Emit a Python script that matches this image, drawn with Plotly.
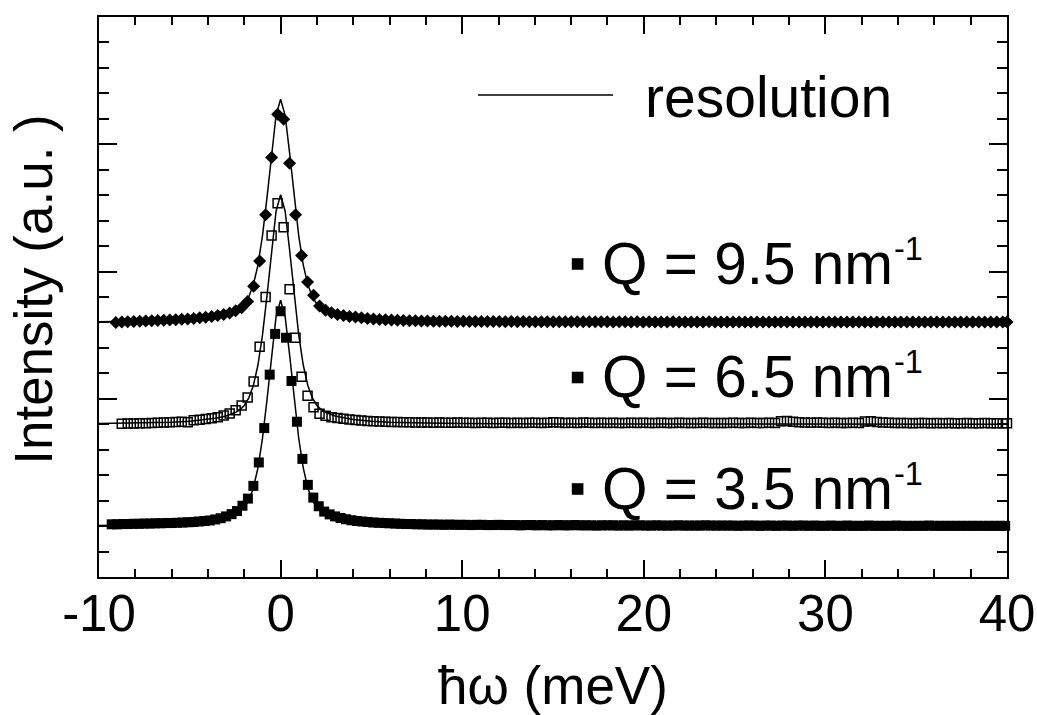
import plotly.graph_objects as go

# ---------------- data ----------------
# energy transfer (meV) and intensities (a.u., relative to each curve's baseline)
x_q35 = [-9.3,-9.0,-8.7,-8.4,-8.1,-7.8,-7.5,-7.2,-6.9,-6.6,-6.3,-6.0,-5.7,-5.4,-5.1,-4.8,-4.5,-4.2,-3.9,-3.6,
         -3.3,-3.0,-2.7,-2.4,-2.1,-1.8,-1.5,-1.2,-0.9,-0.6,-0.3,0.0,0.3,0.6,0.9,1.2,1.5,1.8,2.1,2.4,
         2.7,3.0,3.3,3.6,3.9,4.2,4.5,4.8,5.1,5.4,5.7,6.0,6.3,6.6,6.9,7.2,7.5,7.8,8.1,8.4,
         8.7,9.0,9.3,9.6,9.9,10.2,10.5,10.8,11.1,11.4,11.7,12.0,12.3,12.6,12.9,13.2,13.5,13.8,14.1,14.4,
         14.7,15.0,15.3,15.6,15.9,16.2,16.5,16.8,17.1,17.4,17.7,18.0,18.3,18.6,18.9,19.2,19.5,19.8,20.1,20.4,
         20.7,21.0,21.3,21.6,21.9,22.2,22.5,22.8,23.1,23.4,23.7,24.0,24.3,24.6,24.9,25.2,25.5,25.8,26.1,26.4,
         26.7,27.0,27.3,27.6,27.9,28.2,28.5,28.8,29.1,29.4,29.7,30.0,30.3,30.6,30.9,31.2,31.5,31.8,32.1,32.4,
         32.7,33.0,33.3,33.6,33.9,34.2,34.5,34.8,35.1,35.4,35.7,36.0,36.3,36.6,36.9,37.2,37.5,37.8,38.1,38.4,
         38.7,39.0,39.3,39.6,39.9]
y_q35 = [0.07,0.07,0.08,0.08,0.09,0.09,0.10,0.10,0.11,0.11,0.12,0.12,0.13,0.14,0.15,0.16,0.18,0.20,0.22,0.26,
         0.31,0.38,0.47,0.59,0.80,1.08,1.58,2.50,3.85,5.95,7.55,8.44,7.40,5.70,4.10,2.64,1.62,1.12,0.78,0.57,
         0.46,0.38,0.32,0.27,0.23,0.20,0.18,0.16,0.14,0.13,0.12,0.11,0.10,0.09,0.08,0.08,0.07,0.07,
         0.06,0.06,0.06,0.05,0.06,0.05,0.05,0.05,0.04,0.05,0.05,0.04,0.04,0.05,
         0.04,0.04,0.04,0.03,0.04,0.04,0.03,0.04,0.03,0.03,0.04,0.03,0.03,0.04,
         0.03,0.03,0.03,0.02,0.03,0.03,0.03,0.02,0.03,0.02,0.03,0.03,0.02,0.02,
         0.03,0.02,0.02,0.02,0.03,0.02,0.02,0.02,0.02,0.03,0.02,0.02,0.02,0.02,
         0.02,0.01,0.02,0.02,0.02,0.01,0.02,0.02,0.01,0.02,0.02,0.01,0.02,0.02,
         0.01,0.02,0.01,0.01,0.02,0.01,0.01,0.02,0.01,0.01,0.01,0.02,0.01,0.01,
         0.01,0.01,0.02,0.01,0.01,0.01,0.01,0.01,0.02,0.01,0.01,0.01,0.01,0.01,
         0.01,0.01,0.01,0.01,0.01,0.01,0.01,0.01,0.01]

x_q65 = [-8.745,-8.415,-8.085,-7.755,-7.425,-7.095,-6.765,-6.435,-6.105,-5.775,-5.445,-5.115,-4.785,-4.455,
         -4.125,-3.795,-3.465,-3.135,-2.805,-2.475,-2.145,-1.815,-1.485,-1.155,-0.825,-0.495,-0.165,
         0.165,0.495,0.825,1.155,1.485,1.815,2.145,2.475,2.805,3.135,3.465,3.795,4.125,4.455,4.785,5.115,
         5.445,5.775,6.105,6.435,6.765,7.095,7.425,7.755,8.085,8.415,8.745,9.075,9.405,9.735,10.065,10.395,
         10.725,11.055,11.385,11.715,12.045,12.375,12.705,13.035,13.365,13.695,14.025,14.355,14.685,15.015,
         15.345,15.675,16.005,16.335,16.665,16.995,17.325,17.655,17.985,18.315,18.645,18.975,19.305,19.635,
         19.965,20.295,20.625,20.955,21.285,21.615,21.945,22.275,22.605,22.935,23.265,23.595,23.925,24.255,
         24.585,24.915,25.245,25.575,25.905,26.235,26.565,26.895,27.225,27.555,27.885,28.215,28.545,28.875,
         29.205,29.535,29.865,30.195,30.525,30.855,31.185,31.515,31.845,32.175,32.505,32.835,33.165,33.495,
         33.825,34.155,34.485,34.815,35.145,35.475,35.805,36.135,36.465,36.795,37.125,37.455,37.785,38.115,
         38.445,38.775,39.105,39.435,39.765,40.0]
y_q65 = [0.02,0.03,0.03,0.04,0.04,0.05,0.06,0.07,0.08,0.09,0.10,0.08,0.16,0.18,0.21,0.24,0.28,0.34,0.42,
         0.55,0.74,1.05,1.68,3.05,5.00,7.42,8.68,
         7.74,5.30,3.40,1.87,1.12,0.67,0.41,0.33,0.28,0.25,0.22,0.19,0.17,0.15,0.13,0.12,0.11,0.10,0.09,
         0.09,0.08,0.08,0.07,0.07,
         0.07,0.06,0.07,0.06,0.06,0.07,0.06,0.06,0.05,0.06,
         0.06,0.05,0.06,0.06,0.05,0.06,0.05,0.06,0.06,0.05,
         0.06,0.08,0.07,0.05,0.06,0.05,0.07,0.06,0.05,0.06,
         0.05,0.06,0.05,0.05,0.06,0.05,0.06,0.05,0.05,0.06,
         0.05,0.05,0.06,0.05,0.05,0.05,0.06,0.05,0.05,0.05,
         0.05,0.06,0.05,0.05,0.06,0.05,0.05,0.06,0.05,0.12,
         0.13,0.10,0.08,0.07,0.06,0.07,0.06,0.05,0.06,0.05,
         0.05,0.06,0.05,0.11,0.12,0.09,0.07,0.06,0.05,0.05,
         0.05,0.04,0.05,0.05,0.04,0.05,0.04,0.05,0.04,0.04,
         0.05,0.04,0.04,0.05,0.04,0.04,0.04,0.04]

x_q95 = [-9.075,-8.745,-8.415,-8.085,-7.755,-7.425,-7.095,-6.765,-6.435,-6.105,-5.775,-5.445,-5.115,-4.785,
         -4.455,-4.125,-3.795,-3.465,-3.135,-2.805,-2.475,-2.145,-1.815,-1.485,-1.155,-0.825,-0.495,-0.165,
         0.165,0.495,0.825,1.155,1.485,1.815,2.145,2.475,2.805,3.135,3.465,3.795,4.125,4.455,4.785,5.115,
         5.445,5.775,6.105,6.435,6.765,7.095,7.425,7.755,8.085,8.415,8.745,9.075,9.405,9.735,10.065,10.395,
         10.725,11.055,11.385,11.715,12.045,12.375,12.705,13.035,13.365,13.695,14.025,14.355,14.685,15.015,
         15.345,15.675,16.005,16.335,16.665,16.995,17.325,17.655,17.985,18.315,18.645,18.975,19.305,19.635,
         19.965,20.295,20.625,20.955,21.285,21.615,21.945,22.275,22.605,22.935,23.265,23.595,23.925,24.255,
         24.585,24.915,25.245,25.575,25.905,26.235,26.565,26.895,27.225,27.555,27.885,28.215,28.545,28.875,
         29.205,29.535,29.865,30.195,30.525,30.855,31.185,31.515,31.845,32.175,32.505,32.835,33.165,33.495,
         33.825,34.155,34.485,34.815,35.145,35.475,35.805,36.135,36.465,36.795,37.125,37.455,37.785,38.115,
         38.445,38.775,39.105,39.435,39.765,40.0]
y_q95 = [0.00,0.02,0.03,0.04,0.05,0.06,0.07,0.08,0.09,0.10,0.11,0.13,0.14,0.16,0.18,0.20,0.23,0.27,0.31,
         0.37,0.46,0.58,0.82,1.42,2.41,4.23,6.48,8.18,
         7.98,6.25,4.23,2.63,1.59,1.07,0.65,0.48,0.38,0.31,0.27,0.23,0.21,0.18,0.16,0.14,0.12,0.11,0.10,
         0.09,0.08,0.07,0.07,0.06,
         0.06,0.05,0.05,0.05,0.05,0.04,0.05,0.04,0.04,0.04,
         0.04,0.04,0.04,0.03,0.04,0.03,0.04,0.03,0.03,0.03,
         0.03,0.03,0.03,0.03,0.03,0.03,0.03,0.03,0.03,0.03,
         0.03,0.02,0.03,0.03,0.02,0.03,0.02,0.03,0.02,0.02,
         0.02,0.03,0.02,0.02,0.02,0.02,0.02,0.03,0.02,0.02,
         0.02,0.02,0.02,0.02,0.02,0.02,0.02,0.02,0.02,0.02,
         0.02,0.02,0.02,0.02,0.02,0.02,0.02,0.02,0.02,0.02,
         0.02,0.02,0.02,0.02,0.02,0.02,0.02,0.02,0.02,0.02,
         0.02,0.02,0.02,0.02,0.02,0.02,0.02,0.02,0.02,0.02,
         0.02,0.02,0.02,0.02,0.02,0.02,0.02,0.02]

# resolution function (normalised) and its amplitude for each Q
res_x = [-10,-8,-6,-5,-4,-3.5,-3,-2.5,-2.25,-2,-1.75,-1.5,-1.25,-1,-0.75,-0.5,-0.25,0,
         0.25,0.5,0.75,1,1.25,1.5,1.75,2,2.25,2.5,3,3.5,4,5,6,8,10,15,20,25,30,35,40]
res_y = [0.003,0.005,0.009,0.013,0.021,0.027,0.036,0.051,0.063,0.082,0.115,0.169,0.257,0.387,0.559,0.756,0.928,1.0,
         0.928,0.756,0.559,0.387,0.257,0.169,0.115,0.082,0.063,0.051,0.036,0.027,0.021,0.013,0.009,0.005,0.003,
         0.0015,0.0009,0.0006,0.0004,0.0003,0.0002]
res_amp = [8.87, 9.02, 8.77]
offsets = [0, 4, 8]

q_labels = ["Q = 3.5 nm", "Q = 6.5 nm", "Q = 9.5 nm"]
q_sup = "-1"
res_label = "resolution"
x_ticks = [-10, 0, 10, 20, 30, 40]

FONT = "Liberation Sans, Arial, Helvetica, sans-serif"

fig = go.Figure()

series = [(x_q35, y_q35, dict(symbol="square", size=10, color="black")),
          (x_q65, y_q65, dict(symbol="square-open", size=9, color="black", line=dict(width=1.5, color="black"))),
          (x_q95, y_q95, dict(symbol="diamond", size=10, color="black"))]

# resolution lines
for amp, off in zip(res_amp, offsets):
    fig.add_trace(go.Scatter(x=res_x, y=[off + amp * v for v in res_y], mode="lines",
                             line=dict(color="black", width=1.5), showlegend=False,
                             hoverinfo="skip", cliponaxis=False))
# data points
for (xs, ys, mk), off in zip(series, offsets):
    fig.add_trace(go.Scatter(x=xs, y=[off + v for v in ys], mode="markers", marker=mk,
                             showlegend=False, cliponaxis=False))

axis_common = dict(showline=True, linecolor="black", linewidth=1.6, mirror="ticks",
                   ticks="inside", tickcolor="black", tickwidth=1.5,
                   showgrid=False, zeroline=False, automargin=False)

fig.update_xaxes(range=[-10, 40], tickvals=x_ticks, ticktext=[str(t) for t in x_ticks],
                 ticklen=17, minor=dict(dtick=2, ticks="inside", ticklen=8, tickcolor="black", tickwidth=1.5),
                 tickfont=dict(family=FONT, size=51, color="black"), ticklabelstandoff=-9,
                 **axis_common)
fig.update_yaxes(range=[-2, 20], tick0=0, dtick=5, ticklen=18, showticklabels=False,
                 minor=dict(dtick=1, ticks="inside", ticklen=10, tickcolor="black", tickwidth=1.5),
                 **axis_common)

annos = []
# axis titles
annos.append(dict(text="ħω (meV)", xref="paper", yref="paper", x=0.5, y=-0.1929,
                  xanchor="center", yanchor="middle", showarrow=False, borderpad=0,
                  font=dict(family=FONT, size=53, color="black")))
annos.append(dict(text="Intensity (a.u. )", xref="paper", yref="paper", x=-0.0720, y=0.514,
                  xanchor="center", yanchor="middle", textangle=-90, showarrow=False, borderpad=0,
                  font=dict(family=FONT, size=53, color="black")))
# legend: resolution
annos.append(dict(text=res_label, xref="paper", yref="paper", x=0.6003, y=0.857,
                  xanchor="left", yanchor="middle", showarrow=False, borderpad=0,
                  font=dict(family=FONT, size=57, color="black")))
shapes = [dict(type="line", xref="paper", yref="paper", x0=0.4174, x1=0.5661, y0=0.8607, y1=0.8607,
               line=dict(color="black", width=1.5))]

# Q labels
label_y = [0.158, 0.3573, 0.5598]
sup_y = [0.1845, 0.3838, 0.5863]
sq_y = [(0.1468, 0.1675), (0.3459, 0.3666), (0.5486, 0.5693)]
for lab, ly, sy, (y0, y1) in zip(q_labels, label_y, sup_y, sq_y):
    annos.append(dict(text=lab, xref="paper", yref="paper", x=0.5524, y=ly,
                      xanchor="left", yanchor="middle", showarrow=False, borderpad=0,
                      font=dict(family=FONT, size=58.5, color="black")))
    annos.append(dict(text=q_sup, xref="paper", yref="paper", x=0.8744, y=sy,
                      xanchor="left", yanchor="middle", showarrow=False, borderpad=0,
                      font=dict(family=FONT, size=32.5, color="black")))
    shapes.append(dict(type="rect", xref="paper", yref="paper", x0=0.5207, x1=0.5335, y0=y0, y1=y1,
                       fillcolor="black", line=dict(width=0)))

fig.update_layout(width=1037, height=715, margin=dict(l=99, r=30, t=17, b=138),
                  paper_bgcolor="white", plot_bgcolor="white",
                  annotations=annos, shapes=shapes, showlegend=False)

# remove the default page margin so the figure fills the window exactly; hide the mode bar
fig.write_html("out.html", config={"displayModeBar": False},
               post_script="document.body.style.margin='0';")
